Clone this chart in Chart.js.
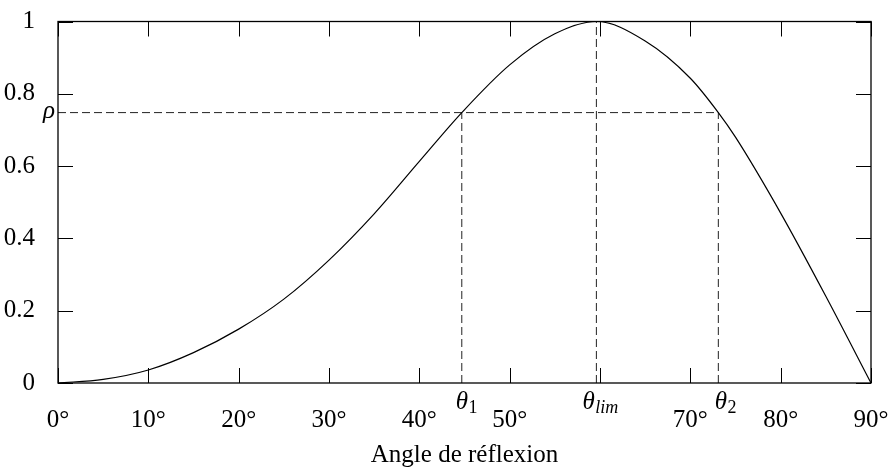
<!DOCTYPE html>
<html>
<head>
<meta charset="utf-8">
<script src="https://cdn.jsdelivr.net/npm/chart.js@4"></script>
<style>
	body { margin: 0; background: #fff; }
</style>
</head>
<body>
<canvas id="chart" width="891" height="470"></canvas>
<script>
const SERIF = "'Liberation Serif', 'DejaVu Serif', serif";

// curve (angle in degrees, normalised value)
const angles = [0, 5, 10, 15, 20, 25, 30, 35, 40, 44.7, 50, 55, 59.6, 65, 70, 73.1, 75, 80, 85, 90];
const reflect = [0, 0.010, 0.036, 0.084, 0.149, 0.232, 0.340, 0.468, 0.613, 0.748, 0.88, 0.966, 1, 0.946, 0.843, 0.748, 0.68, 0.47, 0.24, 0];

// marked values
const theta1 = 44.7;
const thetaLim = 59.6;
const theta2 = 73.1;
const rho = 0.748;

// ticks
const xTickMarks = [0, 10, 20, 30, 40, 50, 60, 70, 80, 90];
const xTickLabels = [0, 10, 20, 30, 40, 50, 70, 80, 90];
const yTickMarks = [0, 0.2, 0.4, 0.6, 0.8, 1];
const yTickLabels = ['0', '0.2', '0.4', '0.6', '0.8', '1'];
const thetaLabels = [
	{ value: theta1, sub: '1' },
	{ value: thetaLim, sub: 'lim' },
	{ value: theta2, sub: '2' }
];

Chart.defaults.color = '#000';
Chart.defaults.font.family = SERIF;

const frame = {
	id: 'frame',
	afterDraw(chart) {
		const { ctx, chartArea: a, scales: { x, y } } = chart;
		const tl = 15;
		ctx.save();
		ctx.strokeStyle = '#000';
		ctx.lineWidth = 1.3;
		ctx.strokeRect(a.left, a.top, a.right - a.left, a.bottom - a.top);

		// inward ticks on all four sides
		ctx.lineWidth = 1;
		ctx.beginPath();
		xTickMarks.forEach((v) => {
			const px = Math.round(x.getPixelForValue(v)) + 0.5;
			ctx.moveTo(px, a.bottom); ctx.lineTo(px, a.bottom - tl);
			ctx.moveTo(px, a.top); ctx.lineTo(px, a.top + tl);
		});
		yTickMarks.forEach((v) => {
			const py = Math.round(y.getPixelForValue(v)) + 0.5;
			ctx.moveTo(a.left, py); ctx.lineTo(a.left + tl, py);
			ctx.moveTo(a.right, py); ctx.lineTo(a.right - tl, py);
		});
		ctx.stroke();

		// theta labels with subscripts
		const shift = { '1': -6, 'lim': -14, '2': -3.5 };
		ctx.fillStyle = '#000';
		ctx.textBaseline = 'alphabetic';
		ctx.textAlign = 'left';
		thetaLabels.forEach((t) => {
			const px = x.getPixelForValue(t.value) + shift[t.sub];
			ctx.font = 'italic 25px ' + SERIF;
			ctx.fillText('θ', px, a.bottom + 25.5);
			const w = ctx.measureText('θ').width;
			ctx.font = (t.sub === 'lim' ? 'italic ' : '') + '18px ' + SERIF;
			ctx.fillText(t.sub, px + w + 0.5, a.bottom + 30);
		});

		// rho label on the y axis
		ctx.font = 'italic 25px ' + SERIF;
		ctx.textAlign = 'right';
		ctx.fillText('ρ', a.left - 3, y.getPixelForValue(rho) + 5.5);
		ctx.restore();
	}
};

const dashed = {
	borderColor: '#222',
	borderWidth: 1,
	borderDash: [8, 4],
	pointRadius: 0,
	fill: false
};

new Chart(document.getElementById('chart'), {
	type: 'line',
	data: {
		datasets: [
			{
				data: angles.map((a, i) => ({ x: a, y: reflect[i] })),
				borderColor: '#000',
				borderWidth: 1.2,
				pointRadius: 0,
				cubicInterpolationMode: 'monotone',
				fill: false
			},
			{ ...dashed, data: [{ x: 0, y: rho }, { x: theta2, y: rho }] },
			{ ...dashed, data: [{ x: theta1, y: 0 }, { x: theta1, y: rho }] },
			{ ...dashed, data: [{ x: thetaLim, y: 0 }, { x: thetaLim, y: 1 }] },
			{ ...dashed, data: [{ x: theta2, y: 0 }, { x: theta2, y: rho }] }
		]
	},
	options: {
		responsive: false,
		animation: false,
		layout: { padding: { top: 21.5, right: 20, left: 0, bottom: 0 } },
		plugins: {
			legend: { display: false },
			tooltip: { enabled: false }
		},
		scales: {
			x: {
				type: 'linear',
				min: 0,
				max: 90,
				afterBuildTicks: (s) => { s.ticks = xTickLabels.map((v) => ({ value: v })); },
				afterFit: (s) => { s.height = 87; s.paddingLeft = 0; s.paddingRight = 0; },
				grid: { display: false },
				border: { display: false },
				ticks: {
					autoSkip: false,
					maxRotation: 0,
					padding: 14,
					font: { size: 25 },
					callback: (v) => v + '°'
				},
				title: {
					display: true,
					text: 'Angle de réflexion',
					font: { size: 25 },
					padding: { top: 0, bottom: 0 }
				}
			},
			y: {
				min: 0,
				max: 1,
				afterBuildTicks: (s) => { s.ticks = yTickMarks.map((v) => ({ value: v })); },
				afterFit: (s) => { s.width = 58; s.paddingTop = 0; s.paddingBottom = 0; },
				grid: { display: false },
				border: { display: false },
				ticks: {
					padding: 15,
					font: { size: 25 },
					callback: (v, i) => yTickLabels[i]
				}
			}
		}
	},
	plugins: [frame]
});
</script>
</body>
</html>
